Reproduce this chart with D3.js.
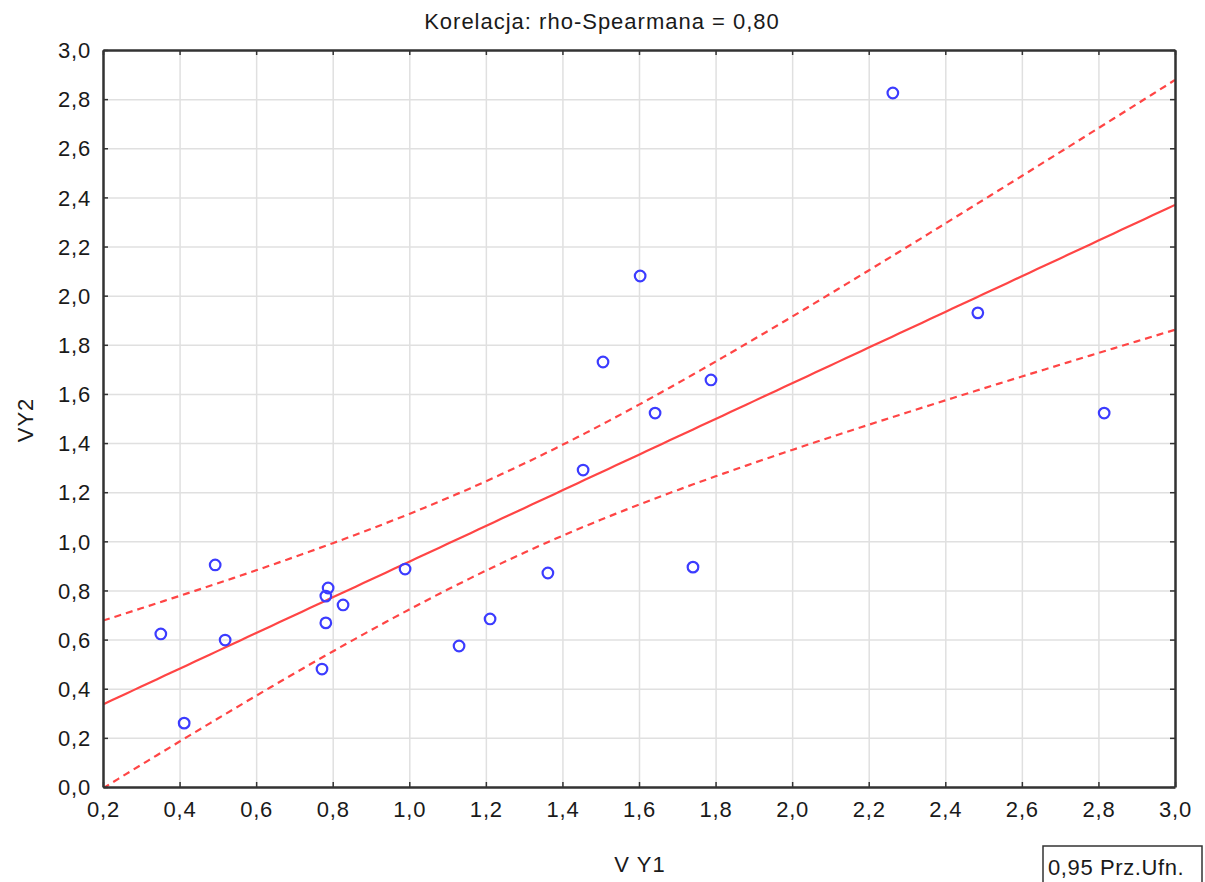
<!DOCTYPE html>
<html>
<head>
<meta charset="utf-8">
<script src="https://cdn.jsdelivr.net/npm/d3@7"></script>
<style>
    body { margin: 0; background: #fff; }
    text { font-family: "Liberation Sans", Arial, sans-serif; fill: #1a1a1a; }
</style>
</head>
<body>
<div id="chart"></div>
<script>
// values
const vy1 = [2.263, 1.603, 2.485, 1.506, 1.788, 1.642, 2.815, 1.454, 0.493, 0.989, 1.362,
             1.741, 0.788, 0.782, 0.827, 0.782, 0.351, 0.519, 1.211, 1.130, 0.772, 0.412];
const vy2 = [2.825, 2.080, 1.930, 1.730, 1.657, 1.522, 1.522, 1.290, 0.904, 0.887, 0.871,
             0.895, 0.810, 0.777, 0.741, 0.668, 0.623, 0.598, 0.684, 0.574, 0.480, 0.260];
const xTicks = [0.2, 0.4, 0.6, 0.8, 1.0, 1.2, 1.4, 1.6, 1.8, 2.0, 2.2, 2.4, 2.6, 2.8, 3.0];
const yTicks = [0.0, 0.2, 0.4, 0.6, 0.8, 1.0, 1.2, 1.4, 1.6, 1.8, 2.0, 2.2, 2.4, 2.6, 2.8, 3.0];
const tCrit = 2.086; // t(0.975, df = 20)

const W = 1205, H = 882;
const margin = { top: 50, right: 30, bottom: 95, left: 103 };
const width = W - margin.left - margin.right,
    height = H - margin.top - margin.bottom;

const fmt = d3.formatLocale({ decimal: ",", thousands: " ", grouping: [3], currency: ["", ""] }).format(".1f");

const x = d3.scaleLinear().domain([0.2, 3.0]).range([0, width]);
const y = d3.scaleLinear().domain([0, 3.0]).range([height, 0]);

const svg = d3.select("#chart").append("svg")
    .attr("width", W)
    .attr("height", H);

const chart = svg.append("g")
    .attr("transform", "translate(" + margin.left + "," + margin.top + ")");

// grid
chart.append("g")
    .attr("transform", "translate(0," + height + ")")
    .call(d3.axisBottom(x).tickValues(xTicks).tickSize(-height).tickFormat(""))
    .call(g => g.select(".domain").remove())
    .selectAll("line").attr("stroke", "#e0e0e0").attr("stroke-width", 1.5);
chart.append("g")
    .call(d3.axisLeft(y).tickValues(yTicks).tickSize(-width).tickFormat(""))
    .call(g => g.select(".domain").remove())
    .selectAll("line").attr("stroke", "#e0e0e0").attr("stroke-width", 1.5);

// regression + 95% confidence band, from the points
const n = vy1.length;
const mx = d3.mean(vy1), my = d3.mean(vy2);
let sxx = 0, sxy = 0;
vy1.forEach((v, i) => { sxx += (v - mx) ** 2; sxy += (v - mx) * (vy2[i] - my); });
const slope = sxy / sxx, icpt = my - slope * mx;
let sse = 0;
vy1.forEach((v, i) => { sse += (vy2[i] - (icpt + slope * v)) ** 2; });
const s = Math.sqrt(sse / (n - 2));

const xs = d3.range(0, 141).map(i => 0.2 + i * 0.02);
const band = xs.map(v => {
    const fit = icpt + slope * v;
    const half = tCrit * s * Math.sqrt(1 / n + (v - mx) ** 2 / sxx);
    return { x: v, fit: fit, lo: fit - half, hi: fit + half };
});

chart.append("clipPath").attr("id", "clip")
    .append("rect").attr("width", width).attr("height", height);

const lines = chart.append("g").attr("clip-path", "url(#clip)");
const red = "#ff4545";

lines.append("path")
    .datum(band)
    .attr("fill", "none").attr("stroke", red).attr("stroke-width", 2.2)
    .attr("d", d3.line().x(d => x(d.x)).y(d => y(d.fit)));

["lo", "hi"].forEach(k => {
    lines.append("path")
        .datum(band)
        .attr("fill", "none").attr("stroke", red).attr("stroke-width", 2.2)
        .attr("stroke-dasharray", "7,5")
        .attr("d", d3.line().x(d => x(d.x)).y(d => y(d[k])));
});

// points
chart.selectAll("circle.pt")
    .data(vy1)
    .enter().append("circle")
    .attr("class", "pt")
    .attr("cx", d => x(d))
    .attr("cy", (d, i) => y(vy2[i]))
    .attr("r", 5.3)
    .attr("fill", "none")
    .attr("stroke", "#3c3cff")
    .attr("stroke-width", 2.2);

// axes with inward ticks on all four sides
const axisColor = "#333";
const gBottom = chart.append("g")
    .attr("transform", "translate(0," + height + ")")
    .call(d3.axisBottom(x).tickValues(xTicks).tickSizeInner(-5).tickSizeOuter(0).tickPadding(14).tickFormat(fmt));
const gLeft = chart.append("g")
    .call(d3.axisLeft(y).tickValues(yTicks).tickSizeInner(-5).tickSizeOuter(0).tickPadding(12).tickFormat(fmt));
const gTop = chart.append("g")
    .call(d3.axisTop(x).tickValues(xTicks).tickSizeInner(-5).tickSizeOuter(0).tickFormat(""));
const gRight = chart.append("g")
    .attr("transform", "translate(" + width + ",0)")
    .call(d3.axisRight(y).tickValues(yTicks).tickSizeInner(-5).tickSizeOuter(0).tickFormat(""));

[gBottom, gLeft, gTop, gRight].forEach(g => {
    g.select(".domain").attr("stroke", axisColor).attr("stroke-width", 2.5);
    g.selectAll(".tick line").attr("stroke", axisColor).attr("stroke-width", 1.5);
    g.selectAll("text")
        .style("font-size", "22px")
        .style("letter-spacing", "0.8px")
        .attr("fill", "#1a1a1a");
});
gBottom.selectAll("text").attr("dy", "0.71em");
gLeft.selectAll("text").attr("dy", "0.35em");

// title and labels
svg.append("text")
    .attr("x", 602).attr("y", 29)
    .attr("text-anchor", "middle")
    .style("font-size", "22px").style("letter-spacing", "1px")
    .text("Korelacja: rho-Spearmana = 0,80");

svg.append("text")
    .attr("x", 640).attr("y", 872)
    .attr("text-anchor", "middle")
    .style("font-size", "22px").style("letter-spacing", "1px")
    .text("V Y1");

svg.append("text")
    .attr("transform", "translate(33,420) rotate(-90)")
    .attr("text-anchor", "middle")
    .style("font-size", "22px").style("letter-spacing", "1px")
    .text("VY2");

// legend box
svg.append("rect")
    .attr("x", 1043).attr("y", 846)
    .attr("width", 159).attr("height", 45)
    .attr("fill", "#fff").attr("stroke", "#333").attr("stroke-width", 1.5);
svg.append("text")
    .attr("x", 1048).attr("y", 875)
    .style("font-size", "22px").style("letter-spacing", "0.6px")
    .text("0,95 Prz.Ufn.");
</script>
</body>
</html>
